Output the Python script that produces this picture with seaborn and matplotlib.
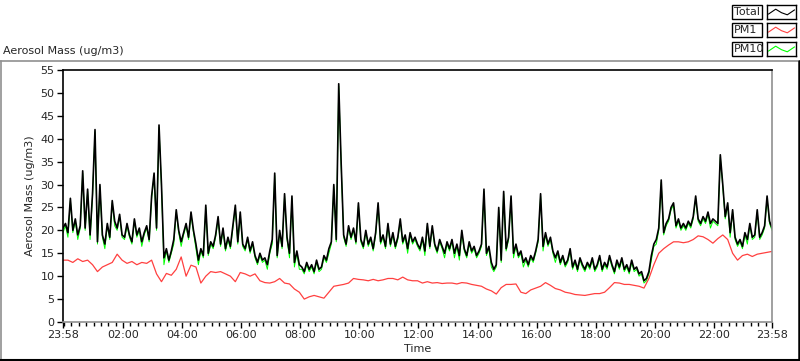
import pandas as pd
import seaborn as sns
import matplotlib
matplotlib.use("Agg")
import matplotlib.pyplot as plt
import matplotlib.dates as mdates
from matplotlib.patches import Rectangle
from matplotlib.lines import Line2D

# DATA (Total and PM10 every 5 min, PM1 every 10 min)
start = pd.Timestamp("2024-01-01 23:58")

total = [
    20.5,
    21.5, 19.5, 27.0, 20.0, 22.5, 19.0, 21.0, 33.0, 20.5, 29.0, 19.0, 28.0,   # 00
    42.0, 17.5, 30.0, 19.0, 17.0, 21.5, 18.5, 26.5, 22.0, 20.5, 23.5, 19.0,   # 01
    18.5, 21.5, 19.0, 17.5, 22.5, 19.0, 20.5, 17.5, 19.5, 21.0, 18.0, 27.5,   # 02
    32.5, 20.5, 43.0, 30.0, 14.0, 16.0, 13.5, 15.5, 18.0, 24.5, 20.0, 17.5,   # 03
    19.5, 21.5, 18.5, 24.0, 20.0, 17.0, 13.5, 16.0, 14.5, 25.5, 15.0, 17.5,   # 04
    16.5, 19.0, 23.0, 17.0, 20.5, 16.0, 18.5, 16.5, 21.0, 25.5, 17.5, 24.0,   # 05
    17.0, 16.0, 18.5, 15.5, 17.5, 14.5, 13.0, 15.0, 13.5, 14.0, 12.5, 15.5,   # 06
    18.0, 32.5, 14.5, 20.0, 16.5, 28.0, 18.5, 15.0, 27.5, 13.0, 15.5, 12.5,   # 07
    12.0, 11.0, 13.0, 11.5, 12.5, 11.0, 13.5, 11.5, 12.0, 14.5, 13.5, 16.0,   # 08
    17.5, 30.0, 18.0, 52.0, 34.5, 19.0, 17.0, 21.0, 18.5, 20.5, 17.5, 26.0,   # 09
    18.0, 16.5, 20.0, 17.0, 18.5, 16.0, 19.5, 26.0, 17.5, 19.0, 16.5, 21.5,   # 10
    17.0, 19.5, 16.5, 18.5, 22.5, 17.5, 19.0, 16.0, 19.5, 17.5, 18.5, 17.0,   # 11
    16.0, 18.5, 15.5, 21.5, 16.5, 21.0, 17.0, 15.5, 18.0, 16.5, 15.0, 17.5,   # 12
    16.0, 18.0, 15.0, 17.0, 14.5, 20.0, 16.0, 14.5, 17.5, 15.5, 16.5, 14.5,   # 13
    15.5, 17.0, 29.0, 15.0, 16.5, 13.0, 11.5, 12.5, 25.0, 13.5, 28.5, 16.0,   # 14
    18.5, 27.5, 15.0, 17.0, 14.5, 15.5, 13.0, 14.0, 12.5, 14.5, 13.5, 15.5,   # 15
    18.0, 28.0, 16.5, 19.5, 17.0, 18.5, 15.5, 14.0, 15.5, 13.0, 14.5, 12.5,   # 16
    13.5, 16.0, 12.0, 13.5, 11.5, 14.0, 12.5, 11.5, 13.0, 12.0, 14.0, 11.5,   # 17
    12.5, 14.5, 11.5, 13.0, 12.0, 14.5, 12.5, 11.0, 13.5, 12.0, 14.0, 11.5,   # 18
    12.5, 11.0, 13.5, 11.5, 12.0, 10.5, 11.0, 9.0, 9.5, 11.0, 14.5, 17.0,     # 19
    18.0, 20.5, 31.0, 19.5, 21.5, 22.5, 25.0, 26.0, 21.0, 22.5, 20.5, 21.5,   # 20
    20.5, 22.0, 21.0, 23.0, 27.5, 22.5, 21.5, 23.0, 22.0, 24.0, 21.5, 22.5,   # 21
    22.0, 21.5, 36.5, 30.0, 23.0, 26.0, 19.5, 24.5, 18.5, 17.0, 18.0, 16.5,   # 22
    19.5, 18.0, 21.5, 18.5, 19.0, 24.5, 18.5, 19.5, 21.0, 27.5, 22.0, 20.5,   # 23
]

pm10 = [
    19.5,
    21.0, 18.5, 26.5, 19.5, 22.0, 18.0, 20.5, 32.5, 20.0, 28.5, 18.0, 27.5,   # 00
    41.5, 17.0, 29.5, 18.5, 16.0, 21.0, 18.0, 26.0, 21.0, 20.0, 23.0, 18.5,   # 01
    18.0, 21.0, 18.5, 17.0, 22.0, 18.5, 20.0, 16.5, 19.0, 20.5, 17.5, 27.0,   # 02
    32.0, 20.0, 42.5, 29.5, 12.5, 15.5, 13.0, 15.0, 17.0, 24.0, 19.5, 16.5,   # 03
    19.0, 21.0, 18.0, 23.5, 19.5, 16.0, 12.5, 15.5, 14.0, 25.0, 14.5, 17.0,   # 04
    16.0, 18.5, 22.5, 16.5, 20.0, 15.5, 18.0, 16.0, 20.5, 25.0, 17.0, 23.5,   # 05
    16.5, 15.5, 18.0, 15.0, 17.0, 14.0, 12.5, 14.5, 13.0, 13.5, 11.5, 15.0,   # 06
    17.0, 32.0, 14.0, 19.5, 16.0, 27.5, 18.0, 14.0, 27.0, 12.0, 15.0, 11.5,   # 07
    11.5, 10.5, 12.5, 11.0, 12.0, 10.5, 13.0, 11.0, 11.5, 14.0, 13.0, 15.0,   # 08
    17.0, 29.5, 17.5, 51.5, 34.0, 18.5, 16.5, 20.5, 18.0, 20.0, 17.0, 25.5,   # 09
    17.5, 16.0, 19.5, 16.5, 18.0, 15.5, 19.0, 25.5, 17.0, 18.5, 16.0, 21.0,   # 10
    16.5, 19.0, 16.0, 18.0, 22.0, 17.0, 18.5, 15.0, 19.0, 17.0, 18.0, 16.5,   # 11
    15.5, 18.0, 14.5, 21.0, 16.0, 20.5, 16.5, 15.0, 17.5, 16.0, 14.0, 17.0,   # 12
    15.5, 17.5, 14.0, 16.5, 13.5, 19.5, 15.5, 14.0, 17.0, 15.0, 16.0, 14.0,   # 13
    15.0, 16.5, 28.5, 14.5, 16.0, 12.0, 11.0, 12.0, 24.5, 13.0, 28.0, 15.5,   # 14
    18.0, 27.0, 14.0, 16.5, 14.0, 15.0, 12.0, 13.5, 12.0, 14.0, 13.0, 15.0,   # 15
    17.5, 27.5, 15.5, 19.0, 16.5, 18.0, 15.0, 13.0, 15.0, 12.5, 14.0, 12.0,   # 16
    13.0, 15.5, 11.5, 13.0, 11.0, 13.5, 12.0, 11.0, 12.5, 11.5, 13.5, 11.0,   # 17
    12.0, 14.0, 11.0, 12.5, 11.5, 14.0, 12.0, 10.5, 13.0, 11.5, 13.5, 11.0,   # 18
    12.0, 10.5, 13.0, 11.0, 11.5, 10.0, 10.5, 8.5, 9.0, 10.5, 13.5, 16.5,     # 19
    17.0, 20.0, 30.5, 19.0, 21.0, 22.0, 24.5, 25.5, 20.5, 22.0, 20.0, 21.0,   # 20
    20.0, 21.5, 20.5, 22.5, 27.0, 22.0, 21.0, 22.5, 21.5, 23.5, 20.5, 22.0,   # 21
    21.5, 21.0, 36.0, 29.5, 22.5, 25.5, 18.5, 24.0, 18.0, 16.5, 17.5, 16.0,   # 22
    19.0, 17.0, 21.0, 18.0, 18.5, 24.0, 18.0, 19.0, 20.5, 27.0, 21.5, 20.0,   # 23
]

pm1 = [
    13.5,
    13.5, 13.0, 13.8, 13.2, 13.5, 12.5,
    11.0, 12.0, 12.5, 13.0, 14.8, 13.5,
    12.8, 13.2, 12.5, 13.0, 12.8, 13.5,
    10.5, 8.8, 10.6, 10.2, 11.5, 14.2,
    10.0, 12.4, 12.0, 8.5, 10.0, 11.0,
    10.8, 11.0, 10.5, 10.0, 8.8, 10.8,
    10.5, 10.0, 10.5, 9.0, 8.6, 8.5,
    8.8, 9.5, 8.5, 8.3, 7.2, 6.5,
    5.0, 5.5, 5.8, 5.5, 5.2, 6.5,
    7.8, 8.0, 8.2, 8.5, 9.5, 9.3,
    9.2, 9.0, 9.3, 9.0, 9.2, 9.5,
    9.5, 9.2, 9.8, 9.2, 9.0, 9.0,
    8.5, 8.8, 8.5, 8.6, 8.4, 8.5,
    8.5, 8.3, 8.6, 8.5, 8.2, 8.0,
    7.8, 7.2, 6.8, 6.1, 7.5, 8.2,
    8.2, 8.3, 6.5, 6.2, 7.0, 7.4,
    7.8, 8.6, 8.0, 7.3, 7.0, 6.5,
    6.3, 6.0, 5.9, 5.8, 6.0, 6.2,
    6.2, 6.5, 7.5, 8.6, 8.5, 8.2,
    8.2, 8.0, 7.8, 7.4, 9.5, 12.5,
    15.0, 16.0, 16.8, 17.5, 17.5, 17.3,
    17.5, 18.0, 18.8, 18.6, 18.0, 17.2,
    18.2, 19.0, 18.0, 15.0, 13.5, 14.5,
    14.8, 14.3, 14.8, 15.0, 15.2, 15.4,
]

tick_labels = ["23:58", "02:00", "04:00", "06:00", "08:00", "10:00", "12:00",
               "14:00", "16:00", "18:00", "20:00", "22:00", "23:58"]
legend_names = ["Total", "PM1", "PM10"]
legend_colors = ["black", "#ff4040", "#00ff00"]

df_fast = pd.DataFrame({"Time": pd.date_range(start, periods=len(total), freq="5min"),
                        "Total": total, "PM10": pm10})
df_pm1 = pd.DataFrame({"Time": pd.date_range(start, periods=len(pm1), freq="10min"),
                       "PM1": pm1})

# FIGURE
sns.set_style("white")
plt.rcParams["font.family"] = ["DejaVu Sans"]
W, H = 800, 361
fig = plt.figure(figsize=(W / 100, H / 100), dpi=100)


def fx(px):
    return px / W


def fy(py):
    return 1 - py / H


ax = fig.add_axes([fx(63), fy(322), 709 / W, 252 / H])

sns.lineplot(data=df_fast, x="Time", y="PM10", ax=ax, color="#00ff00", lw=0.7, estimator=None)
sns.lineplot(data=df_pm1, x="Time", y="PM1", ax=ax, color="#ff4040", lw=0.9, estimator=None)
sns.lineplot(data=df_fast, x="Time", y="Total", ax=ax, color="black", lw=1.2, estimator=None)

ax.set_xlim(start, start + pd.Timedelta(hours=24))
ax.set_ylim(0, 55)
ax.set_yticks(range(0, 56, 5))

major = [start] + list(pd.date_range("2024-01-02 02:00", periods=11, freq="2h")) \
    + [start + pd.Timedelta(hours=24)]
ax.set_xticks(major)
ax.set_xticklabels(tick_labels)
ax.xaxis.set_minor_locator(mdates.MinuteLocator(byminute=[0, 15, 30, 45]))

ax.tick_params(axis="both", which="major", direction="out", length=4, width=1,
               color="black", labelsize=8, pad=2, bottom=True, left=True)
ax.tick_params(axis="x", which="minor", direction="out", length=3, width=1,
               color="black", bottom=True)
ax.set_xlabel("Time", fontsize=8, labelpad=3)
ax.set_ylabel("Aerosol Mass (ug/m3)", fontsize=8, labelpad=4)

for side, col in [("left", "black"), ("top", "black"), ("right", "#909090"), ("bottom", "#909090")]:
    ax.spines[side].set_visible(True)
    ax.spines[side].set_color(col)
    ax.spines[side].set_linewidth(1.2)

# title above the plot
fig.text(fx(3), fy(51), "Aerosol Mass (ug/m3)", fontsize=8, ha="left", va="center")

# sunken outer frame
fig.add_artist(Line2D([fx(0), fx(800)], [fy(61), fy(61)], color="#909090", lw=1.2))
fig.add_artist(Line2D([fx(0.5), fx(0.5)], [fy(61), fy(361)], color="#909090", lw=1.2))
fig.add_artist(Line2D([fx(0), fx(800)], [fy(360), fy(360)], color="black", lw=1.5))
fig.add_artist(Line2D([fx(799), fx(799)], [fy(61), fy(361)], color="black", lw=1.8))

# legend rows: name box + sample box
row_tops = [5, 23, 42]
glyph_x = [0.05, 0.3, 0.5, 0.7, 0.95]
glyph_y = [0.35, 0.7, 0.45, 0.3, 0.65]
for name, col, top in zip(legend_names, legend_colors, row_tops):
    fig.add_artist(Rectangle((fx(732), fy(top + 14)), 30 / W, 14 / H, transform=fig.transFigure,
                             fc="white", ec="black", lw=1))
    fig.text(fx(734), fy(top + 7), name, fontsize=8, ha="left", va="center")
    lax = fig.add_axes([fx(767), fy(top + 14), 29 / W, 14 / H])
    lax.plot(glyph_x, glyph_y, color=col, lw=0.8)
    lax.set_xlim(0, 1)
    lax.set_ylim(0, 1)
    lax.set_xticks([])
    lax.set_yticks([])
    for s in lax.spines.values():
        s.set_visible(True)
        s.set_color("black")
        s.set_linewidth(1)

fig.savefig("out.png", dpi=100)
